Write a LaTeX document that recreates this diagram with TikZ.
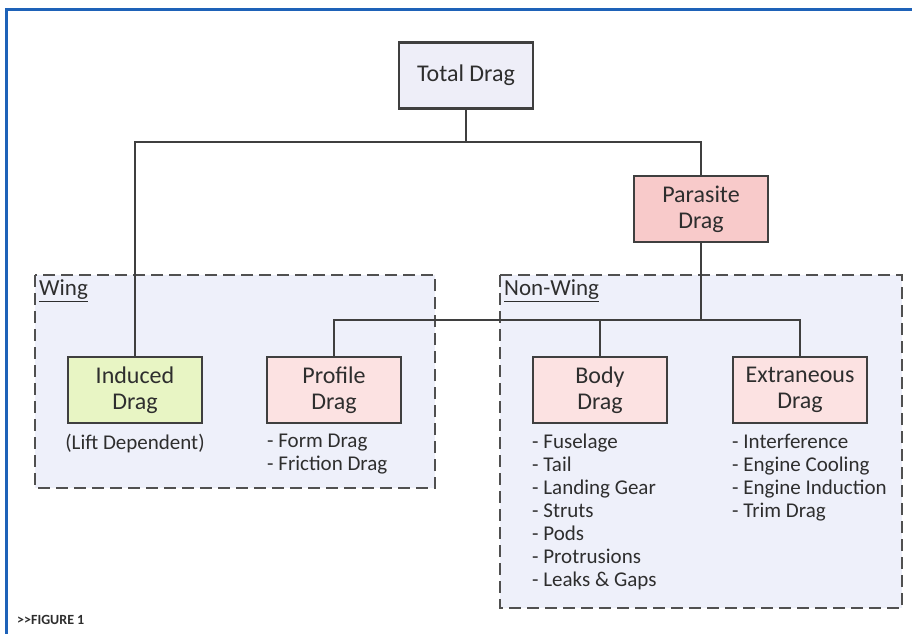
\documentclass[tikz,border=0pt]{standalone}
\usepackage{fontspec}
\setmainfont{Carlito}
\begin{document}
\begin{tikzpicture}[x=1pt,y=-1pt,
  box/.style={draw=boxline, line width=2.4pt, minimum width=134pt, minimum height=66pt, inner sep=2pt, align=center, font=\fontsize{24}{26}\selectfont, text=txt},
  grp/.style={draw=grpline, fill=grpfill, line width=2pt, dash pattern=on 12pt off 6pt},
  conn/.style={draw=boxline, line width=2pt},
  lst/.style={anchor=north west, inner sep=0pt, align=left, font=\fontsize{21}{23}\selectfont, text=txt},
  lbl/.style={anchor=west, inner sep=0pt, font=\fontsize{23}{25}\selectfont, text=txt}]
\definecolor{boxline}{HTML}{3F3F3F}
\definecolor{grpline}{HTML}{505050}
\definecolor{grpfill}{HTML}{EEF0FA}
\definecolor{txt}{HTML}{2E2E2E}
\definecolor{totfill}{HTML}{EEEEF8}
\definecolor{parfill}{HTML}{F8CACA}
\definecolor{pinkfill}{HTML}{FCE2E2}
\definecolor{grnfill}{HTML}{E8F5C4}
\definecolor{frame}{HTML}{1E62B8}
\useasboundingbox (0,0) rectangle (912,633);
\fill[white] (0,0) rectangle (912,633);
\draw[frame, line width=3pt] (6,945) -- (6,9) -- (950,9);
% groups
\draw[grp] (35,275) rectangle (435,488);
\draw[grp] (500,275) rectangle (902,608);
\node[lbl] (wing) at (39,291) {\underline{Wing}};
\node[lbl] (nonwing) at (504,291) {\underline{Non-Wing}};
% boxes
\node[box, fill=totfill] (total) at (466,75.5) {Total Drag};
\node[box, fill=parfill] (parasite) at (701,209) {Parasite\\Drag};
\node[box, fill=grnfill] (induced) at (135,390) {Induced\\Drag};
\node[box, fill=pinkfill] (profile) at (334,390) {Profile\\Drag};
\node[box, fill=pinkfill] (body) at (600,390) {Body\\Drag};
\node[box, fill=pinkfill] (extr) at (800,390) {Extraneous\\Drag};
% connectors
\coordinate (j1) at (466,142);
\coordinate (j2) at (701,320);
\draw[conn] (total.south) -- (j1);
\draw[conn] (induced.north) |- (j1);
\draw[conn] (parasite.north) |- (j1);
\draw[conn] (parasite.south) -- (j2);
\draw[conn] (profile.north) |- (j2);
\draw[conn] (body.north) |- (j2);
\draw[conn] (extr.north) |- (j2);
% lists
\node[anchor=north, inner sep=0pt, font=\fontsize{21}{23}\selectfont, text=txt] (lift) at (135,434) {(Lift Dependent)};
\node[lst] (plist) at (267,434) {- Form Drag\\- Friction Drag};
\node[lst] (blist) at (532,434) {- Fuselage\\- Tail\\- Landing Gear\\- Struts\\- Pods\\- Protrusions\\- Leaks \& Gaps};
\node[lst] (elist) at (732,434) {- Interference\\- Engine Cooling\\- Engine Induction\\- Trim Drag};
\node[anchor=west, inner sep=0pt, font=\fontsize{14}{15}\selectfont\bfseries, text=txt] (fig) at (17,620) {>{}>FIGURE 1};
\end{tikzpicture}
\end{document}
